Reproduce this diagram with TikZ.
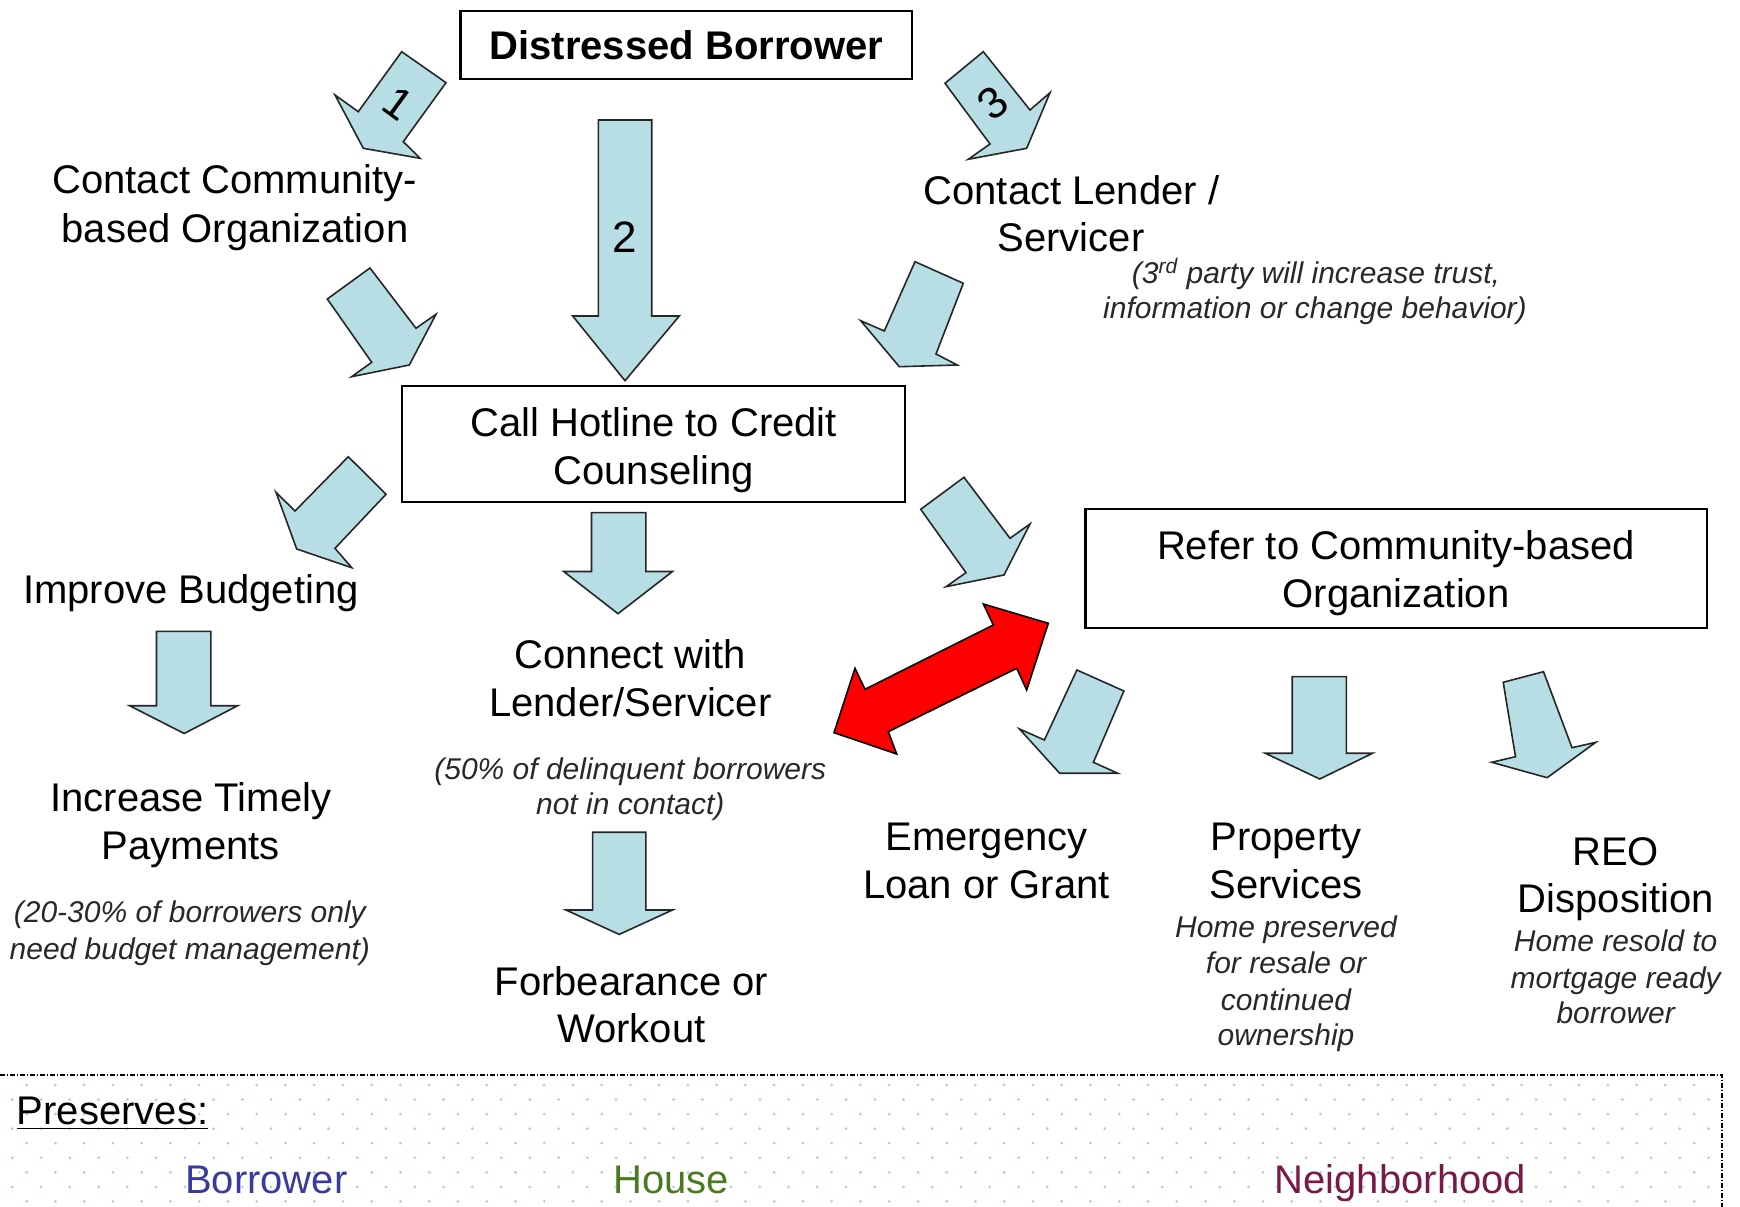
\documentclass[tikz,border=0pt]{standalone}
\usepackage{fontspec}
\setmainfont{Liberation Sans}
\definecolor{arrowblue}{RGB}{183,222,228}
\definecolor{notegray}{RGB}{40,40,40}
\definecolor{dotblue}{RGB}{160,212,222}
\definecolor{borrowerblue}{RGB}{58,58,158}
\definecolor{housegreen}{RGB}{74,122,30}
\definecolor{hoodmaroon}{RGB}{122,24,72}
\begin{document}
\begin{tikzpicture}[x=0.5bp,y=-0.5bp,
  blockarrow/.style={fill=arrowblue, draw=black!85, line width=0.8bp, line join=miter},
  redarrow/.style={fill=red, draw=black, line width=0.8bp, line join=miter},
  stepbox/.style={draw=black, line width=1.2bp, inner sep=0pt},
  main/.style={font=\fontsize{20bp}{24bp}\selectfont, inner sep=0pt, anchor=base, text=black},
  note/.style={font=\fontsize{15bp}{18bp}\selectfont\itshape, inner sep=0pt, anchor=base, text=notegray},
  digit/.style={font=\fontsize{22bp}{26bp}\selectfont, inner sep=0pt, text=black},
  legend/.style={font=\fontsize{20bp}{24bp}\selectfont, inner sep=0pt, anchor=base},
]
\path[use as bounding box, clip] (0,0) rectangle (1740,1207);

% ---------- legend panel ----------
\begin{scope}
  \clip (0,1077) rectangle (1720,1207);
  \foreach \j in {0,...,8} {
    \pgfmathsetmacro\yy{1085+14.55*\j}
    \pgfmathsetmacro\xo{mod(\j,2)==0 ? 26.7 : 12.3}
    \foreach \i in {0,...,59} {
      \fill[dotblue] (\xo+28.75*\i,\yy) circle (0.75bp);
    }
  }
\end{scope}
\coordinate (legendtl) at (-10,1075);
\coordinate (legendtr) at (1722,1075);
\coordinate (legendbr) at (1722,1220);
\draw[line width=1bp, dash pattern=on 2.4bp off 0.9bp on 0.8bp off 0.9bp]
  (legendtl) -- (legendtr) -- (legendbr);
\node[legend, anchor=base west] (preserves) at (16.6,1124.8) {\underline{Preserves:}};
\node[legend, text=borrowerblue] (lgborrower) at (266.3,1193.6) {Borrower};
\node[legend, text=housegreen] (lghouse) at (671.4,1193.6) {House};
\node[legend, text=hoodmaroon] (lghood) at (1400.4,1193.6) {Neighborhood};

% ---------- boxes ----------
\node[stepbox, minimum width=225.75bp, minimum height=33.9bp] (borrowerbox) at (686.3,45) {};
\node[stepbox, minimum width=251.5bp, minimum height=58bp] (hotlinebox) at (653.5,444) {};
\node[stepbox, minimum width=310.7bp, minimum height=59.4bp] (referbox) at (1396,568.7) {};

% ---------- block arrows ----------
% 1: borrower -> community organization
\draw[blockarrow] (401.7,51.7) -- (446,82.7) -- (403.3,141.7) -- (420,158.3)
  -- (363.3,148.3) -- (335,95) -- (358.3,111.7) -- cycle;
% 2: borrower -> hotline
\draw[blockarrow] (598.3,120) -- (651.7,120) -- (651.7,316) -- (679.3,316)
  -- (625,380.7) -- (572.7,316) -- (598.3,316) -- cycle;
% 3: borrower -> lender
\draw[blockarrow] (983.3,51.7) -- (1030,110) -- (1050,92.7) -- (1026.7,148.3)
  -- (968.3,159.3) -- (990,144) -- (945,83.3) -- cycle;
% community organization -> hotline
\draw[blockarrow] (370,268) -- (416,328.3) -- (436,314.3) -- (409.3,365)
  -- (351.7,376.7) -- (371.7,362.3) -- (327.3,299) -- cycle;
% lender -> hotline
\draw[blockarrow] (915,261.7) -- (963.3,283.3) -- (936,354) -- (957.3,365)
  -- (899.3,366.7) -- (860.7,320.7) -- (884.3,331) -- cycle;
% hotline -> budgeting
\draw[blockarrow] (348.3,456.7) -- (386,494.3) -- (335,548.3) -- (351.7,567.7)
  -- (296.7,549) -- (276,492.3) -- (295,511) -- cycle;
% hotline -> connect
\draw[blockarrow] (591.5,512.7) -- (645.8,512.7) -- (645.8,571.5) -- (672.5,571.5)
  -- (618,613.7) -- (563.7,571.5) -- (591.5,571.5) -- cycle;
% hotline -> refer
\draw[blockarrow] (964,477.3) -- (1010,538.3) -- (1030,524) -- (1004,575)
  -- (946,586.7) -- (966,572.7) -- (920.7,509.3) -- cycle;
% budgeting -> timely payments
\draw[blockarrow] (156.5,631.4) -- (210.8,631.4) -- (210.8,705.8) -- (237.5,705.8)
  -- (184.2,733.5) -- (129.8,705.8) -- (156.5,705.8) -- cycle;
% connect -> forbearance
\draw[blockarrow] (592.6,832.3) -- (645.8,832.3) -- (645.8,910) -- (672.5,910)
  -- (619.2,934.4) -- (566,910) -- (592.6,910) -- cycle;
% refer -> emergency loan
\draw[blockarrow] (1076.9,670) -- (1123.9,691) -- (1093.4,762.3) -- (1117.8,773.3)
  -- (1059.7,773.3) -- (1019.5,729) -- (1044.4,740) -- cycle;
% refer -> property services
\draw[blockarrow] (1292.2,676.7) -- (1346.4,676.7) -- (1346.4,753.3) -- (1372.5,753.3)
  -- (1319.7,779) -- (1265.4,753.3) -- (1292.2,753.3) -- cycle;
% refer -> REO disposition
\draw[blockarrow] (1503.2,682.3) -- (1543.5,671.7) -- (1572,747.7) -- (1595.8,742.3)
  -- (1547.1,777.7) -- (1491.7,762.3) -- (1515.5,756.7) -- cycle;
% two-way link between lender contact and community organization
\draw[redarrow] (1048.3,623.3) -- (983.3,604) -- (993.3,625) -- (865,689.3)
  -- (855,668.3) -- (834,732.7) -- (896.7,754) -- (888.3,731.7)
  -- (1016.7,668.3) -- (1026.7,690) -- cycle;

% path numbers
\node[digit, rotate=-36] (num1) at (398,103) {1};
\node[digit, anchor=base] (num2) at (625,253) {2};
\node[digit, rotate=38] (num3) at (993,103) {3};

% ---------- texts ----------
\node[main, font=\fontsize{20bp}{24bp}\selectfont\bfseries] (tborrower) at (686.3,60) {Distressed Borrower};

\node[main] (tcbo1) at (234.7,193.8) {Contact Community-};
\node[main] (tcbo2) at (235,242.6) {based Organization};

\node[main] (tlender1) at (1071.4,205) {Contact Lender /};
\node[main] (tlender2) at (1071,251.5) {Servicer};
\node[note] (tlender3) at (1316,283.5) {(3\textsuperscript{rd} party will increase trust,};
\node[note] (tlender4) at (1315,319) {information or change behavior)};

\node[main] (thotline1) at (653.6,436.8) {Call Hotline to Credit};
\node[main] (thotline2) at (653.6,484.5) {Counseling};

\node[main] (tbudget) at (190.9,603.2) {Improve Budgeting};
\node[main] (ttimely1) at (190.9,811.9) {Increase Timely};
\node[main] (ttimely2) at (190.9,859.6) {Payments};
\node[note] (ttimely3) at (189.8,922.7) {(20-30\% of borrowers only};
\node[note] (ttimely4) at (189.8,959.3) {need budget management)};

\node[main] (tconnect1) at (630.3,668.7) {Connect with};
\node[main] (tconnect2) at (630.3,716.4) {Lender/Servicer};
\node[note] (tconnect3) at (630.3,779.5) {(50\% of delinquent borrowers};
\node[note] (tconnect4) at (630.3,815) {not in contact)};

\node[main] (tforb1) at (631.4,995) {Forbearance or};
\node[main] (tforb2) at (631.4,1042.7) {Workout};

\node[main] (trefer1) at (1396,560) {Refer to Community-based};
\node[main] (trefer2) at (1396,607.7) {Organization};

\node[main] (temerg1) at (986.5,850.7) {Emergency};
\node[main] (temerg2) at (986.5,898.4) {Loan or Grant};

\node[main] (tprop1) at (1286,850.7) {Property};
\node[main] (tprop2) at (1286,898.4) {Services};
\node[note] (tprop3) at (1286,937.1) {Home preserved};
\node[note] (tprop4) at (1286,973.7) {for resale or};
\node[note] (tprop5) at (1286,1010.3) {continued};
\node[note] (tprop6) at (1286,1045.8) {ownership};

\node[main] (treo1) at (1615.7,865.1) {REO};
\node[main] (treo2) at (1615.7,912.9) {Disposition};
\node[note] (treo3) at (1615.7,951.5) {Home resold to};
\node[note] (treo4) at (1615.7,988.1) {mortgage ready};
\node[note] (treo5) at (1615.7,1023.7) {borrower};
\end{tikzpicture}
\end{document}
